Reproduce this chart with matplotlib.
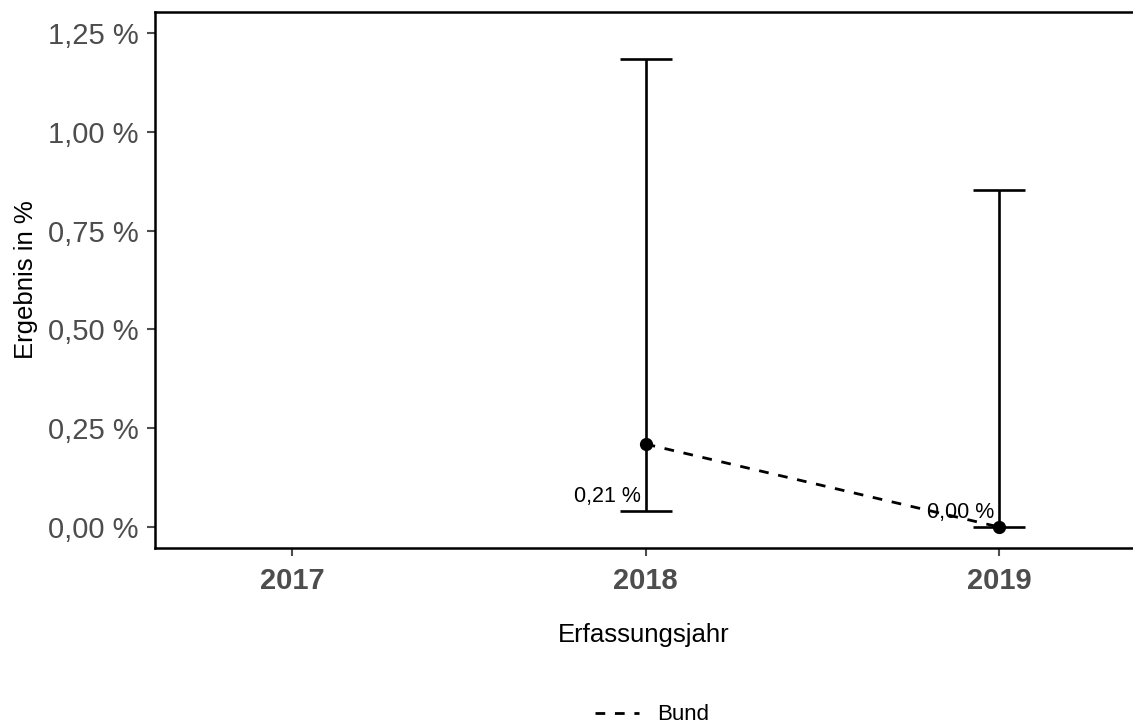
import matplotlib
matplotlib.use("Agg")
import matplotlib.pyplot as plt

plt.rcParams['font.family'] = ['Liberation Sans', 'DejaVu Sans']

years = [2017, 2018, 2019]
jahr = [2018, 2019]
wert = [0.21, 0.00]
unten = [0.04, 0.00]
oben = [1.184, 0.852]
labels = ["0,21 %", "0,00 %"]
yticks = [0.0, 0.25, 0.5, 0.75, 1.0, 1.25]
ytick_labels = ["0,00 %", "0,25 %", "0,50 %", "0,75 %", "1,00 %", "1,25 %"]

fig = plt.figure(figsize=(11.33, 7.26), dpi=100)
ax = fig.add_axes([155/1133, 1-548/726, 1-155/1133, (548-12)/726])

# error bars
err_lo = [w - u for w, u in zip(wert, unten)]
err_hi = [o - w for w, o in zip(wert, oben)]
ax.errorbar(jahr, wert, yerr=[err_lo, err_hi], fmt='none', ecolor='black',
            elinewidth=1.9, capsize=19, capthick=1.9, zorder=2)
line, = ax.plot(jahr, wert, color='black', linestyle=(0, (3.5, 3.5)), linewidth=2.0,
                zorder=3, label='Bund')
ax.plot(jahr, wert, 'o', color='black', markersize=8.5, zorder=4)

for x, u, t in zip(jahr, unten, labels):
    ax.annotate(t, (x, u), xytext=(-3.5, 6.5), textcoords='offset points',
                ha='right', va='baseline', fontsize=15.5, color='black')

ax.set_xlim(2016.613, 2019.378)
ax.set_ylim(-0.053, 1.303)
ax.set_xticks(years)
ax.set_xticklabels([str(y) for y in years], fontweight='bold')
ax.set_yticks(yticks)
ax.set_yticklabels(ytick_labels)
ax.tick_params(axis='both', colors='#4d4d4d', labelsize=21, length=6, width=1.5)
ax.tick_params(axis='x', pad=8)
ax.tick_params(axis='y', pad=6)

for s in ['left', 'bottom', 'top']:
    ax.spines[s].set_linewidth(1.8)
    ax.spines[s].set_color('black')
ax.spines['right'].set_visible(False)

ax.set_xlabel("Erfassungsjahr", fontsize=18.5, labelpad=20)
ax.set_ylabel("Ergebnis in %", fontsize=18.5, labelpad=7)

fig.legend(handles=[line], labels=['Bund'], loc='center',
           bbox_to_anchor=(652/1133, 1-715/726), frameon=False, fontsize=16,
           handlelength=2.0, handletextpad=0.8)

fig.savefig("out.png", dpi=100)
